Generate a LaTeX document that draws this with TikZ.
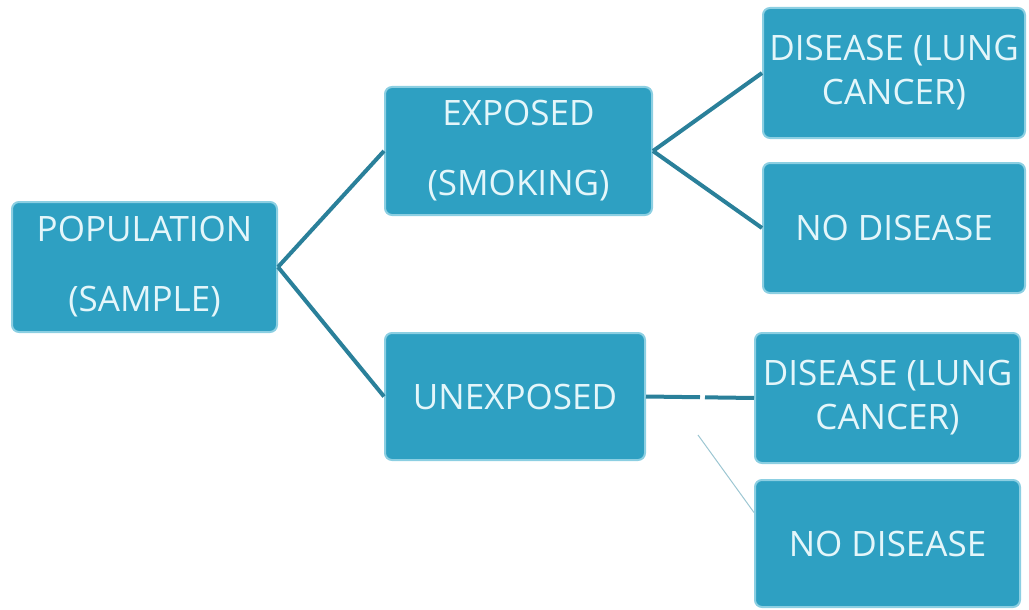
\documentclass[tikz,border=0pt]{standalone}
\usepackage{fontspec}
\setmainfont{Open Sans}
\definecolor{boxfill}{HTML}{2EA0C2}
\definecolor{boxedge}{HTML}{8CCFE2}
\definecolor{boxtext}{HTML}{E4F6FA}
\definecolor{link}{HTML}{2A809A}
\definecolor{thinlink}{HTML}{9CC6D2}
\tikzset{
  box/.style={draw=boxedge, line width=2pt, fill=boxfill, rounded corners=7pt,
    text=boxtext, align=center, inner sep=0pt},
  bigtext/.style={font=\fontsize{35}{70}\selectfont},
  smalltext/.style={font=\fontsize{35}{44}\selectfont},
  conn/.style={draw=link, line width=4pt},
  thinconn/.style={draw=thinlink, line width=1pt}
}
\begin{document}
\begin{tikzpicture}[x=1pt,y=-1pt]
\useasboundingbox (0,0) rectangle (1029,610);
\node[box,bigtext,minimum width=265pt,minimum height=130pt] (pop) at (144.5,267) {POPULATION\\(SAMPLE)};
\node[box,bigtext,minimum width=267pt,minimum height=128pt] (exp) at (518.5,151) {EXPOSED\\(SMOKING)};
\node[box,bigtext,minimum width=260pt,minimum height=127pt] (unexp) at (515,396.5) {UNEXPOSED};
\node[box,smalltext,minimum width=262pt,minimum height=130pt] (dis1) at (894,73) {DISEASE (LUNG\\CANCER)};
\node[box,smalltext,minimum width=262pt,minimum height=130pt] (nod1) at (894,228) {NO DISEASE};
\node[box,smalltext,minimum width=265pt,minimum height=130pt] (dis2) at (887.5,398) {DISEASE (LUNG\\CANCER)};
\node[box,smalltext,minimum width=265pt,minimum height=127pt] (nod2) at (887.5,543.5) {NO DISEASE};
\draw[conn] (pop.east) -- (exp.west);
\draw[conn] (pop.east) -- (unexp.west);
\draw[conn] (exp.east) -- (dis1.west);
\draw[conn] (exp.east) -- (nod1.west);
\draw[conn, dash pattern=on 54pt off 5pt on 60pt] (unexp.east) -- (dis2.west);
\coordinate (t0) at (698,435);
\draw[thinconn] (t0) -- ([yshift=31pt]nod2.west);
\end{tikzpicture}
\end{document}
